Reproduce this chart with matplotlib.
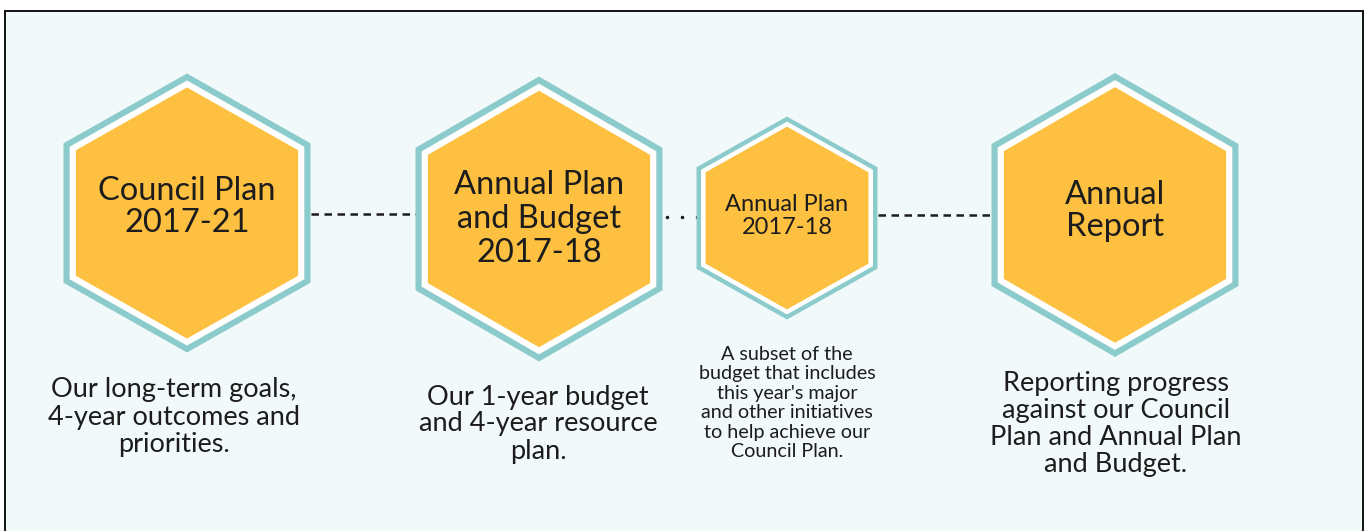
import numpy as np
import matplotlib
matplotlib.use("Agg")
import matplotlib.pyplot as plt
from matplotlib.patches import Polygon, Rectangle

# content
titles = ["Council Plan\n2017-21", "Annual Plan\nand Budget\n2017-18",
          "Annual Plan\n2017-18", "Annual\nReport"]
descriptions = [
    "Our long-term goals,\n4-year outcomes and\npriorities.",
    "Our 1-year budget\nand 4-year resource\nplan.",
    "A subset of the\nbudget that includes\nthis year's major\nand other initiatives\nto help achieve our\nCouncil Plan.",
    "Reporting progress\nagainst our Council\nPlan and Annual Plan\nand Budget.",
]
connector_styles = ["dashed", "dotted", "dashed"]

# layout (pixels, y down)
hex_cx = [187, 539, 787, 1115]
hex_cy = [213, 219, 218, 215]
hex_rx = [123.5, 123.5, 90.5, 123.5]
hex_ry = [139.5, 142.5, 101.5, 142.0]
title_y = [207, 219, 216, 211]
title_size = [23.5, 23.5, 17, 23.5]
title_spacing = [1.12, 1.15, 1.08, 1.12]
desc_x = [174, 538, 787, 1116]
desc_y = [417, 424, 403, 424]
desc_size = [19.5, 19.5, 14.2, 19.5]
desc_spacing = [1.12, 1.1, 1.17, 1.1]

TEAL = "#8ccbcc"
YELLOW = "#fdc040"
BG = "#f2f9fb"
INK = "#1c1c1c"

plt.rcParams["font.family"] = ["Lato", "DejaVu Sans"]

fig = plt.figure(figsize=(13.65, 5.31), dpi=100)
ax = fig.add_axes([0, 0, 1, 1])
ax.set_xlim(0, 1365)
ax.set_ylim(531, 0)
ax.axis("off")

ax.add_patch(Rectangle((5, 11), 1358, 540, facecolor=BG, edgecolor="black", lw=1.3))


def hexagon(cx, cy, rx, ry, scale):
    ang = np.deg2rad(90 + 60 * np.arange(6))
    return np.column_stack([cx + rx * scale * np.cos(ang) / np.cos(np.pi / 6),
                            cy - ry * scale * np.sin(ang)])


# connectors between hexagons
for i, style in enumerate(connector_styles):
    x0 = hex_cx[i] + hex_rx[i]
    x1 = hex_cx[i + 1] - hex_rx[i + 1]
    y = (hex_cy[i] + hex_cy[i + 1]) / 2 - 2
    if style == "dashed":
        ax.plot([x0, x1], [y, y], color=INK, lw=1.8, dashes=(3, 2.2), zorder=1)
    else:
        xs = np.linspace(x0 + 4, x1, 3)
        ax.plot(xs, [y] * 3, "o", color=INK, ms=1.5, zorder=1)

for i in range(4):
    for scale, col in [(1.0, TEAL), (0.95, "white"), (0.9, YELLOW)]:
        ax.add_patch(Polygon(hexagon(hex_cx[i], hex_cy[i], hex_rx[i], hex_ry[i], scale),
                             closed=True, facecolor=col, edgecolor="none", zorder=2))
    ax.text(hex_cx[i], title_y[i], titles[i],
            ha="center", va="center", fontsize=title_size[i], color=INK,
            linespacing=title_spacing[i], zorder=3)
    ax.text(desc_x[i], desc_y[i], descriptions[i],
            ha="center", va="center", fontsize=desc_size[i], color=INK,
            linespacing=desc_spacing[i], zorder=3)

fig.savefig("out.png", dpi=100, facecolor="white")
